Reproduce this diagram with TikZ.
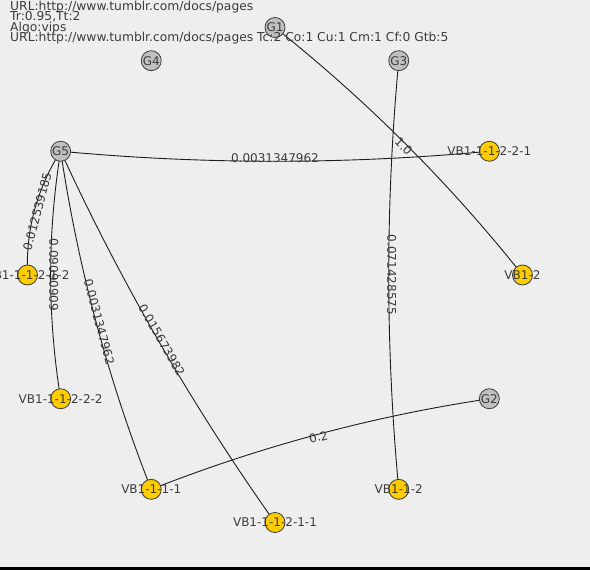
\documentclass[tikz,border=0pt]{standalone}
\usepackage{fontspec}
\setmainfont{DejaVu Sans}
\usetikzlibrary{calc,backgrounds}
\definecolor{bgc}{HTML}{EEEEEE}
\definecolor{vby}{HTML}{FFCC00}
\definecolor{gng}{HTML}{C0C0C0}
\definecolor{txt}{HTML}{3C3C3C}
\definecolor{lnc}{HTML}{1E1E1E}
\newcommand\jedge[4]{%
  \draw[edgeline] (#1.center) .. controls ($(#1)!0.3333!(#2)!13.333pt!-90:(#2)$) and ($(#1)!0.6667!(#2)!13.333pt!-90:(#2)$) .. (#2.center) node[elab,midway,#4] {#3};}
\begin{document}
\begin{tikzpicture}[x=1pt,y=1pt,font=\fontsize{12}{14}\selectfont,
  gnode/.style={circle, draw=txt, line width=0.8pt, fill=gng, minimum size=20pt, inner sep=0pt},
  vnode/.style={gnode, fill=vby},
  nlab/.style={text=txt, inner sep=0pt},
  elab/.style={text=txt, inner xsep=0pt, inner ysep=-2pt},
  edgeline/.style={draw=lnc, line width=0.9pt},
  hdr/.style={text=txt, anchor=base west, inner sep=0pt, font=\fontsize{12.3}{14}\selectfont}]
\useasboundingbox (0,0) rectangle (590,-570);
% nodes
\node[gnode] (G1) at (275,-27.5) {};
\node[gnode] (G3) at (398.75,-60.66) {};
\node[vnode] (V2221) at (489.34,-151.25) {};
\node[vnode] (V12) at (522.5,-275) {};
\node[gnode] (G2) at (489.34,-398.75) {};
\node[vnode] (V112) at (398.75,-489.34) {};
\node[vnode] (V11211) at (275,-522.5) {};
\node[vnode] (V1111) at (151.25,-489.34) {};
\node[vnode] (V11222) at (60.66,-398.75) {};
\node[vnode] (V11212) at (27.5,-275) {};
\node[gnode] (G5) at (60.66,-151.25) {};
\node[gnode] (G4) at (151.25,-60.66) {};
% node texts
\node[nlab] (G1t) at (G1) {G1};
\node[nlab] (G3t) at (G3) {G3};
\node[nlab] (V2221t) at (V2221) {VB1-1-1-2-2-1};
\node[nlab] (V12t) at (V12) {VB1-2};
\node[nlab] (G2t) at (G2) {G2};
\node[nlab] (V112t) at (V112) {VB1-1-2};
\node[nlab] (V11211t) at (V11211) {VB1-1-1-2-1-1};
\node[nlab] (V1111t) at (V1111) {VB1-1-1-1};
\node[nlab] (V11222t) at (V11222) {VB1-1-1-2-2-2};
\node[nlab] (V11212t) at (V11212) {VB1-1-1-2-1-2};
\node[nlab] (G5t) at (G5) {G5};
\node[nlab] (G4t) at (G4) {G4};
% header
\node[hdr] (h1) at (10,-10) {URL:http://www.tumblr.com/docs/pages};
\node[hdr] (h2) at (10,-20.5) {Tr:0.95,Tt:2};
\node[hdr] (h3) at (10,-31) {Algo:vips};
\node[hdr] (h4) at (10,-41.5) {URL:http://www.tumblr.com/docs/pages Tc:2 Co:1 Cu:1 Cm:1 Cf:0 Gtb:5};
\begin{scope}[on background layer]
\fill[bgc] (0,0) rectangle (590,-570);
\fill[black] (0,-566.5) rectangle (590,-570);
\jedge{G5}{V2221}{0.0031347962}{sloped,anchor=south}
\jedge{G5}{V11212}{0.012539185}{sloped,anchor=north}
\jedge{G5}{V11222}{0.09090909}{rotate=-90,anchor=south}
\jedge{G5}{V1111}{0.0031347962}{sloped,anchor=south}
\jedge{G5}{V11211}{0.015673982}{sloped,anchor=south}
\jedge{G3}{V112}{0.071428575}{rotate=-90,anchor=south}
\jedge{V12}{G1}{1.0}{sloped,anchor=north}
\jedge{G2}{V1111}{0.2}{sloped,anchor=north}
\end{scope}
\end{tikzpicture}
\end{document}
